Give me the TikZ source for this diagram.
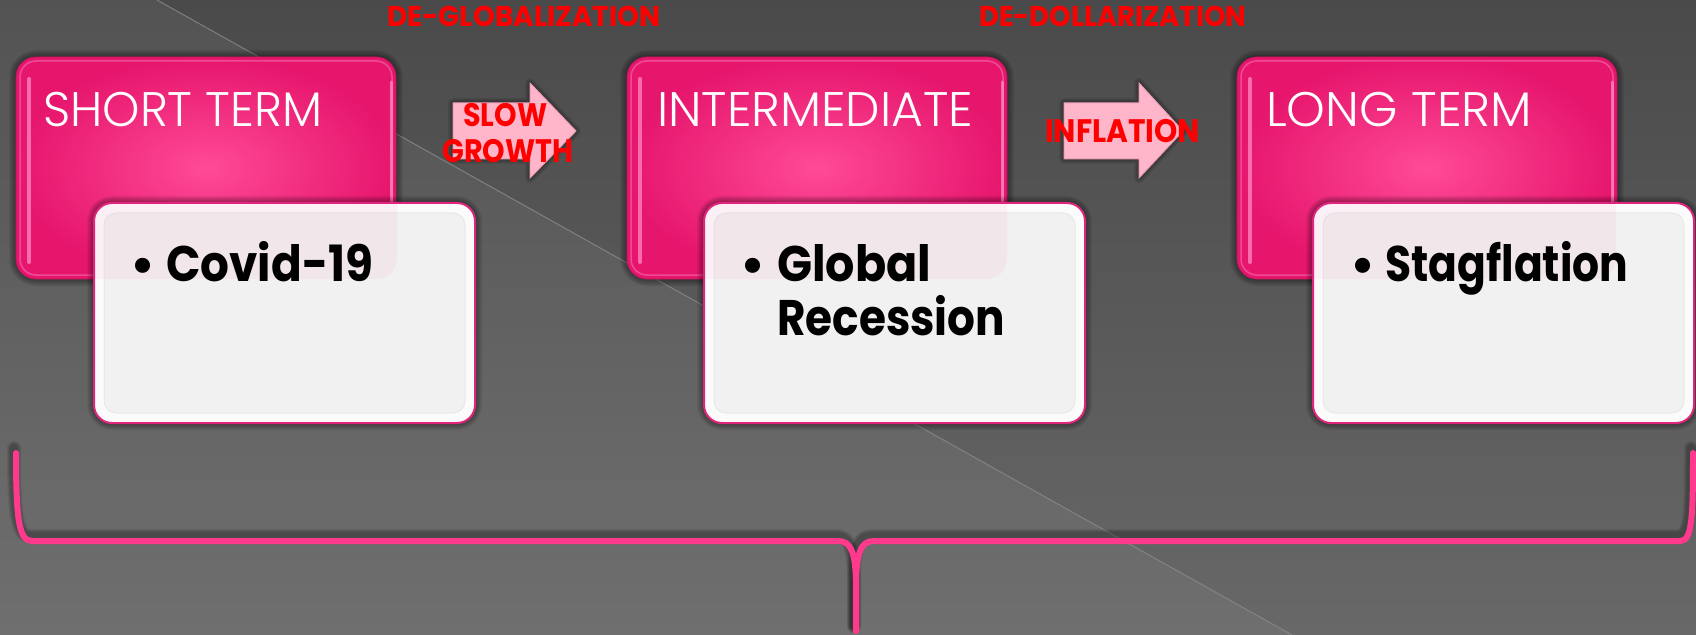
\documentclass[tikz,border=0pt]{standalone}
\usepackage{fontspec}
\usepackage{graphicx}
\setmainfont{Poppins}
\IfFontExistsTF{Poppins Light}{\newfontfamily\titlefont{Poppins Light}}{\newfontfamily\titlefont{Poppins}}
\usetikzlibrary{calc}
\definecolor{bgtop}{HTML}{4A4A4A}
\definecolor{bgbot}{HTML}{686868}
\definecolor{diagline}{HTML}{8A8A8A}
\definecolor{pinkin}{HTML}{FF4A97}
\definecolor{pinkout}{HTML}{E6166D}
\definecolor{pinkhl}{HTML}{FF8AC4}
\definecolor{wring}{HTML}{FBFBFB}
\definecolor{winner}{HTML}{F1F1F1}
\definecolor{wborder}{HTML}{E0257C}
\definecolor{arrowpink}{HTML}{FFB6CA}
\definecolor{arrowedge}{HTML}{EE9DB4}
\definecolor{bracepink}{HTML}{FF3A8D}
\definecolor{labelred}{HTML}{FF0000}

\tikzset{
  pinkrect/.style={minimum width=380bp, minimum height=222bp, inner sep=0pt, outer sep=0pt,
    rounded corners=20bp, inner color=pinkin, outer color=pinkout, draw=pinkout!85!black, line width=0.8bp},
  whiterect/.style={minimum width=381bp, minimum height=220bp, inner sep=0pt, outer sep=0pt,
    rounded corners=18bp, draw=wborder, line width=2bp},
  titletext/.style={text=white, inner sep=0pt, anchor=base west, font=\titlefont\fontsize{48.5bp}{50bp}\selectfont},
  bodytext/.style={text=black, inner sep=0pt, anchor=base west, font=\fontsize{50bp}{53bp}\selectfont\bfseries},
  redtext/.style={text=labelred, inner sep=0pt, anchor=base west, font=\fontsize{28.6bp}{30bp}\selectfont\bfseries},
  redbig/.style={redtext, font=\fontsize{32.5bp}{34bp}\selectfont\bfseries},
  arrowfill/.style={fill=arrowpink, draw=arrowedge, line width=1bp, line join=miter},
  bracestroke/.style={draw=bracepink, line width=6bp, line cap=round, line join=round}
}

\newcommand\softshadow[5]{%
  \foreach \k in {1,...,7}{%
    \pgfmathsetmacro\rr{#5+\k}%
    \fill[black, opacity=0.06, rounded corners=\rr bp] (#1-\k,#2-\k) rectangle (#1+#3+\k,#2+#4+\k);
  }}

\newcommand\pinkbox[3]{%
  \softshadow{#2}{#3}{380}{222}{20}
  \node[pinkrect, anchor=north west] (#1) at (#2,#3) {};
  \draw[pinkhl, line width=1.5bp, opacity=.45, rounded corners=16bp] (#2+4,#3+4) rectangle (#2+376,#3+218);
  \draw[pinkhl, line width=4bp, line cap=round, opacity=.75] (#2+13,#3+22) -- (#2+13,#3+205);
  \draw[pinkhl, line width=3bp, line cap=round, opacity=.75] (#2+375,#3+25) -- (#2+375,#3+200);
}

\newcommand\whitebox[3]{%
  \softshadow{#2}{#3}{381}{220}{18}
  \fill[wring, rounded corners=18bp] (#2,#3) rectangle (#2+381,#3+220);
  \fill[winner, rounded corners=12bp] (#2+10,#3+10) rectangle (#2+371,#3+210);
  \draw[black!12, line width=1bp, opacity=.6, rounded corners=12bp] (#2+10,#3+10) rectangle (#2+371,#3+210);
  \begin{scope}
    \clip[rounded corners=18bp] (#2,#3) rectangle (#2+381,#3+220);
    \fill[pinkin, opacity=.06, rounded corners=20bp] (#2-77,#3-146) rectangle (#2+303,#3+76);
  \end{scope}
  \node[whiterect, anchor=north west] (#1) at (#2,#3) {};
}

\newcommand\bigarrow[4]{% name x0 x1 xtip
  \foreach \k in {1,...,5}{%
    \pgfmathsetmacro\lw{2*\k}%
    \draw[black, opacity=0.07, line width=\lw bp, line join=round, fill=black, fill opacity=0.05]
      (#2,103) -- (#3,103) -- (#3,83) -- (#4,131) -- (#3,178) -- (#3,159) -- (#2,159) -- cycle;
  }
  \draw[arrowfill] (#2,103) -- (#3,103) -- (#3,83) -- (#4,131) -- (#3,178) -- (#3,159) -- (#2,159) -- cycle;
  \coordinate (#1) at ({(#2+#4)/2},131);
}

\begin{document}
\begin{tikzpicture}[x=1bp, y=-1bp]
\useasboundingbox (0,0) rectangle (1696,635);
% background
\shade[top color=bgtop, bottom color=bgbot] (0,0) rectangle (1696,635);
\fill[white, opacity=0.05] (0,0) -- (157,0) -- (1292,635) -- (0,635) -- cycle;
\draw[diagline, line width=1bp, opacity=.8] (157,0) -- (1292,635);

% brace
\foreach \k in {1,...,4}{%
  \pgfmathsetmacro\lw{6+2*\k}%
  \begin{scope}[shift={(-2,-5)}]
  \draw[black, opacity=0.08, line width=\lw bp, line cap=round, line join=round]
    (16,453) .. controls (16,520) and (19,541) .. (32,541) -- (838,541)
    .. controls (851,541) and (855,552) .. (856,580) -- (856,631);
  \draw[black, opacity=0.08, line width=\lw bp, line cap=round, line join=round]
    (856,631) -- (856,580) .. controls (857,552) and (861,541) .. (874,541) -- (1680,541)
    .. controls (1692,541) and (1693,520) .. (1693,453);
  \end{scope}
}
\coordinate (braceL) at (16,453);
\coordinate (braceTip) at (856,631);
\coordinate (braceR) at (1693,453);
\draw[bracestroke] (braceL) .. controls (16,520) and (19,541) .. (32,541) -- (838,541)
    .. controls (851,541) and (855,552) .. (856,580) -- (braceTip);
\draw[bracestroke] (braceTip) -- (856,580) .. controls (857,552) and (861,541) .. (874,541) -- (1680,541)
    .. controls (1692,541) and (1693,520) .. (braceR);

% arrows
\bigarrow{arr1}{453}{530}{576}
\bigarrow{arr2}{1064}{1139}{1183}

% pink boxes
\pinkbox{p1}{16}{57}
\pinkbox{p2}{627}{57}
\pinkbox{p3}{1237}{57}

% titles
\node[titletext] (t1) at (43,127) {\resizebox{279bp}{\height}{SHORT TERM}};
\node[titletext] (t2) at (657,127) {\resizebox{316bp}{\height}{INTERMEDIATE}};
\node[titletext] (t3) at (1266,127) {\resizebox{266bp}{\height}{LONG TERM}};

% white boxes
\whitebox{w1}{94}{203}
\whitebox{w2}{704}{203}
\whitebox{w3}{1313}{203}

% body texts
\node[bodytext, anchor=base] (b1) at (143,282) {\textbullet};
\node[bodytext] (c1) at (166,282) {\resizebox{207bp}{\height}{Covid-19}};
\node[bodytext, anchor=base] (b2) at (753,282) {\textbullet};
\node[bodytext] (c2a) at (777,281) {\resizebox{154bp}{\height}{Global}};
\node[bodytext] (c2b) at (777,335) {\resizebox{228bp}{\height}{Recession}};
\node[bodytext, anchor=base] (b3) at (1363,282) {\textbullet};
\node[bodytext] (c3) at (1385,282) {\resizebox{243bp}{\height}{Stagflation}};

% red labels
\node[redtext] (l1) at (387,27) {\resizebox{273bp}{\height}{DE-GLOBALIZATION}};
\node[redtext] (l2) at (979,27) {\resizebox{267bp}{\height}{DE-DOLLARIZATION}};
\node[redbig] (l3) at (463,127) {\resizebox{84bp}{\height}{SLOW}};
\node[redbig] (l4) at (442,163) {\resizebox{131bp}{\height}{GROWTH}};
\node[redbig] (l5) at (1045,143) {\resizebox{155bp}{\height}{INFLATION}};
\end{tikzpicture}
\end{document}
